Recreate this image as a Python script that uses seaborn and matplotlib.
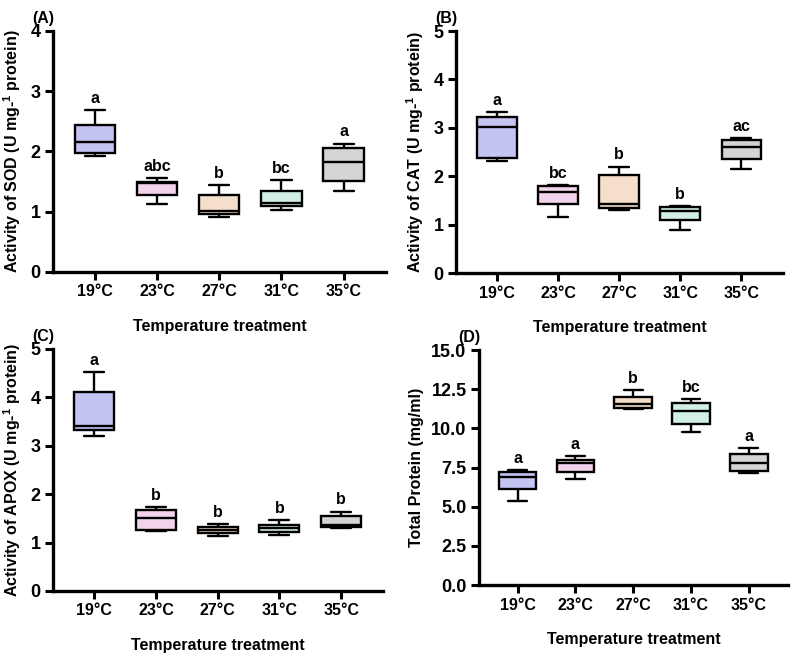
import matplotlib
matplotlib.use("Agg")
import matplotlib.pyplot as plt
import seaborn as sns
import numpy as np
import pandas as pd

sns.set_theme(style="ticks")
plt.rcParams['font.family'] = ['Liberation Sans', 'DejaVu Sans']
plt.rcParams['font.weight'] = 'bold'
plt.rcParams['text.color'] = 'black'
plt.rcParams['axes.labelcolor'] = 'black'
plt.rcParams['xtick.color'] = 'black'
plt.rcParams['ytick.color'] = 'black'
plt.rcParams['mathtext.fontset'] = 'custom'
plt.rcParams['mathtext.rm'] = 'Liberation Sans:bold'
plt.rcParams['mathtext.bf'] = 'Liberation Sans:bold'

temps = ["19°C", "23°C", "27°C", "31°C", "35°C"]
colors = ["#BCBDFA", "#F8CCF0", "#FDDEC3", "#CCF5E4", "#D4D4D4"]

# five-number summaries per group: min, q1, median, q3, max
sod = [[1.93, 1.97, 2.16, 2.44, 2.68],
       [1.13, 1.28, 1.48, 1.50, 1.56],
       [0.91, 0.96, 1.02, 1.27, 1.44],
       [1.03, 1.09, 1.14, 1.34, 1.52],
       [1.34, 1.51, 1.83, 2.05, 2.13]]
cat = [[2.32, 2.37, 3.02, 3.22, 3.32],
       [1.15, 1.42, 1.68, 1.79, 1.81],
       [1.30, 1.35, 1.42, 2.02, 2.20],
       [0.89, 1.09, 1.28, 1.36, 1.39],
       [2.14, 2.35, 2.60, 2.75, 2.78]]
apox = [[3.21, 3.32, 3.41, 4.12, 4.52],
        [1.23, 1.26, 1.51, 1.67, 1.73],
        [1.14, 1.19, 1.26, 1.32, 1.39],
        [1.16, 1.21, 1.31, 1.37, 1.46],
        [1.30, 1.33, 1.37, 1.54, 1.64]]
protein = [[5.36, 6.13, 6.91, 7.23, 7.36],
           [6.79, 7.21, 7.77, 7.98, 8.21],
           [11.23, 11.32, 11.57, 12.00, 12.43],
           [9.79, 10.28, 11.11, 11.62, 11.87],
           [7.17, 7.30, 7.77, 8.38, 8.72]]

sod_letters = ["a", "abc", "b", "bc", "a"]
cat_letters = ["a", "bc", "b", "b", "ac"]
apox_letters = ["a", "b", "b", "b", "b"]
protein_letters = ["a", "a", "b", "bc", "a"]

sod_label = r"Activity of SOD (U mg-$^{1}$ protein)"
cat_label = r"Activity of CAT (U mg-$^{1}$ protein)"
apox_label = r"Activity of APOX (U mg-$^{1}$ protein)"
protein_label = "Total Protein (mg/ml)"
xlabel = "Temperature treatment"

fig = plt.figure(figsize=(7.94, 6.56), dpi=100)

panels = [
    ("(A)", sod, sod_letters, sod_label, [0.0668, 0.5854, 0.4194, 0.3674], 4, 1, "{:.0f}"),
    ("(B)", cat, cat_letters, cat_label, [0.5743, 0.5838, 0.4118, 0.3689], 5, 1, "{:.0f}"),
    ("(C)", apox, apox_letters, apox_label, [0.0668, 0.0991, 0.4156, 0.3689], 5, 1, "{:.0f}"),
    ("(D)", protein, protein_letters, protein_label, [0.6033, 0.1082, 0.3892, 0.3582], 15, 2.5, "{:.1f}"),
]

for tag, vals, letters, ylab, rect, ymax, ystep, fmt in panels:
    ax = fig.add_axes(rect)
    rows = []
    for t, v in zip(temps, vals):
        for x in v:
            rows.append({"temp": t, "value": x})
    df = pd.DataFrame(rows)
    sns.boxplot(data=df, x="temp", y="value", hue="temp", order=temps,
                hue_order=temps, palette=colors, legend=False,
                whis=(0, 100), width=0.65, linewidth=1.7, linecolor="black",
                showfliers=False, ax=ax)
    for i, (v, l) in enumerate(zip(vals, letters)):
        ax.annotate(l, xy=(i, max(v)), xytext=(0, 3), textcoords="offset points",
                    ha="center", va="bottom", fontsize=11.5, fontweight="bold",
                    color="black")
    ax.set_xlim(-0.67, 4.68)
    ax.set_ylim(0, ymax)
    ticks = np.arange(0, ymax + ystep / 2, ystep)
    ax.set_yticks(ticks)
    ax.set_yticklabels([fmt.format(t) for t in ticks], fontsize=13, fontweight="bold")
    ax.set_xticks(range(5))
    ax.set_xticklabels(temps, fontsize=11.5, fontweight="bold")
    ax.set_xlabel(xlabel, fontsize=11.5, fontweight="bold", labelpad=14, color="black")
    ax.set_ylabel(ylab, fontsize=11.5, fontweight="bold", labelpad=5, color="black")
    for s in ["top", "right"]:
        ax.spines[s].set_visible(False)
    for s in ["left", "bottom"]:
        ax.spines[s].set_linewidth(2.4)
        ax.spines[s].set_color("black")
    ax.tick_params(axis="both", direction="out", length=6, width=2.2, colors="black", pad=3)
    ax.set_facecolor("white")
    ax.text(-0.03, 1.02, tag, transform=ax.transAxes, ha="center", va="bottom",
            fontsize=11.5, fontweight="bold", color="black")

fig.savefig("out.png", dpi=100, facecolor="white")
